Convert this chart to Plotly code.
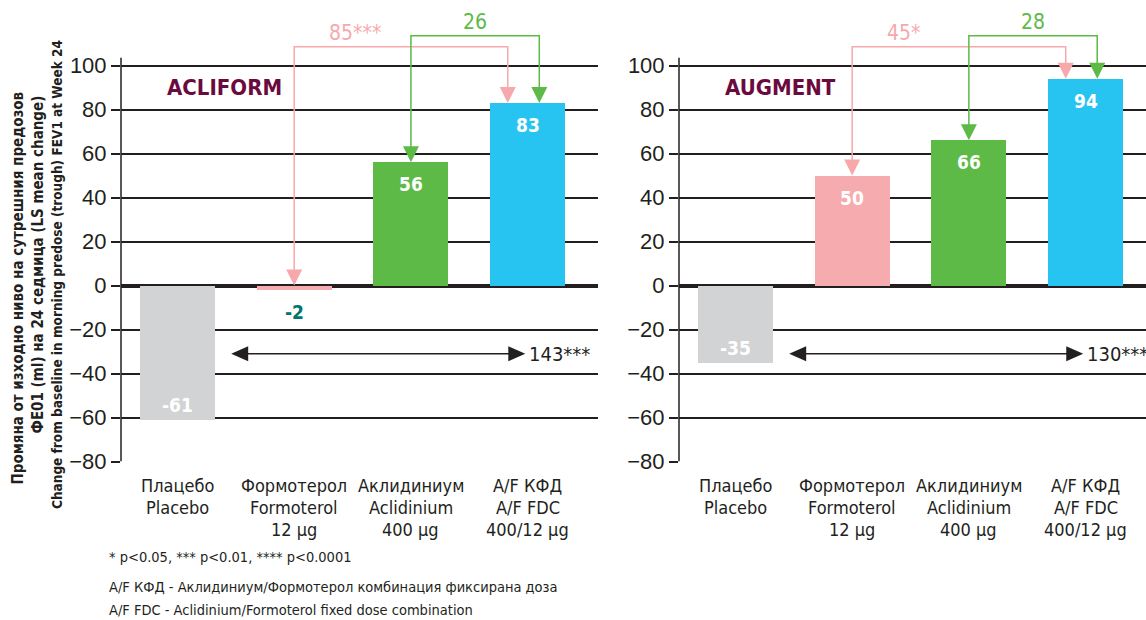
import plotly.graph_objects as go

# ---- data -------------------------------------------------------------
labels_bg = ["Плацебо", "Формотерол", "Аклидиниум", "A/F КФД"]
labels_en = ["Placebo", "Formoterol", "Aclidinium", "A/F FDC"]
labels_dose = ["", "12 µg", "400 µg", "400/12 µg"]

studies = ["ACLIFORM", "AUGMENT"]
acliform_change = [-61, -2, 56, 83]
augment_change = [-35, 50, 66, 94]

# treatment differences for A/F FDC vs formoterol, aclidinium, placebo
acliform_diffs = ["85***", "26", "143***"]
augment_diffs = ["45*", "28", "130***"]

y_ticks = [-80, -60, -40, -20, 0, 20, 40, 60, 80, 100]

y_title_lines = [
    "Промяна от изходно ниво на сутрешния предозов",
    "ФЕ01 (ml) на 24 седмица (LS mean change)",
    "Change from baseline in morning predose (trough) FEV1 at Week 24",
]
footnotes = [
    "* p<0.05, *** p<0.01, **** p<0.0001",
    "A/F КФД - Аклидиниум/Формотерол комбинация фиксирана доза",
    "A/F FDC - Aclidinium/Formoterol fixed dose combination",
]

# ---- style ------------------------------------------------------------
W, H = 1146, 620
NARROW = "DejaVu Sans Condensed, Liberation Sans Narrow, Arial Narrow, sans-serif"
REGULAR = "Liberation Sans, Arial, sans-serif"
INK = "#231f20"
BAR_COLORS = ["#d1d3d4", "#f6abae", "#5dba47", "#27c4f2"]
PINK = "#f7a8ab"
GREEN = "#5dba47"
PURPLE = "#6b0a3e"
TEAL = "#00766c"

Y_ZERO_PX = 285.5       # vertical pixel of value 0
PX_PER_UNIT = 2.2       # vertical pixels per ml
Y_TOP = Y_ZERO_PX / PX_PER_UNIT
Y_BOTTOM = -80
BAR_W = 0.643

panels = [
    dict(xa="x", ya="y", dom=(121 / W, 598 / W), xr=(-0.484, 3.603),
         values=acliform_change, diffs=acliform_diffs, title=studies[0]),
    dict(xa="x2", ya="y2", dom=(679 / W, 1.0), xr=(-0.484, 3.518),
         values=augment_change, diffs=augment_diffs, title=studies[1]),
]

fig = go.Figure()
shapes = []
annotations = []


def tri_down(xref, yref, x, y, color):
    return dict(type="path", xref=xref, yref=yref, xsizemode="pixel", ysizemode="pixel",
                xanchor=x, yanchor=y, path="M -8,16 L 8,16 L 0,0 Z",
                fillcolor=color, line=dict(width=0), layer="above")


def tri_side(xref, yref, x, y, direction):
    d = 17 * direction
    return dict(type="path", xref=xref, yref=yref, xsizemode="pixel", ysizemode="pixel",
                xanchor=x, yanchor=y, path=f"M 0,0 L {-d},7.5 L {-d},-7.5 Z",
                fillcolor=INK, line=dict(width=0), layer="above")


for k, p in enumerate(panels):
    xa, ya = p["xa"], p["ya"]
    vals = p["values"]
    xs = list(range(len(vals)))
    fig.add_trace(go.Bar(x=xs, y=vals, width=BAR_W, marker=dict(color=BAR_COLORS, line=dict(width=0)),
                         xaxis=xa, yaxis=ya, showlegend=False, hoverinfo="skip"))

    # value labels
    for i, v in enumerate(vals):
        if v > 0:
            shift, col = -22, "white"
        elif -v * PX_PER_UNIT > 30:
            shift, col = 15, "white"
        else:
            shift, col = -22, TEAL
        annotations.append(dict(x=i, y=v, xref=xa, yref=ya, yshift=shift, text=f"<b>{v}</b>",
                                showarrow=False, font=dict(family=NARROW, size=19, color=col)))

    # study name
    annotations.append(dict(x=-0.107, y=90, xref=xa, yref=ya, xanchor="left", yanchor="middle",
                            text=f"<b>{p['title']}</b>", showarrow=False,
                            font=dict(family=NARROW, size=22, color=PURPLE)))

    # y axis line
    shapes.append(dict(type="line", xref=f"{xa} domain", yref=ya, x0=0, x1=0, y0=Y_BOTTOM, y1=103.5,
                       line=dict(color=INK, width=1.5)))

    # brackets: formoterol -> A/F (pink), aclidinium -> A/F (green)
    top_af = max(vals[3], 0)
    for src, dx_end, y_top, color, label, lab_x, lab_anchor in [
        (1, -0.17, 108.5, PINK, p["diffs"][0], 1.28, "left"),
        (2, 0.10, 113.5, GREEN, p["diffs"][1], None, "center"),
    ]:
        y_src = max(vals[src], 0)
        x_end = 3 + dx_end
        shapes.append(dict(type="path", xref=xa, yref=ya,
                           path=f"M {src},{y_src + 5} L {src},{y_top} L {x_end},{y_top} L {x_end},{top_af + 5}",
                           line=dict(color=color, width=1.5)))
        shapes.append(tri_down(xa, ya, src, y_src, color))
        shapes.append(tri_down(xa, ya, x_end, top_af, color))
        annotations.append(dict(x=lab_x if lab_x is not None else (src + x_end) / 2, y=y_top,
                                xref=xa, yref=ya, xanchor=lab_anchor, yanchor="bottom", yshift=0,
                                text=label, showarrow=False,
                                font=dict(family=NARROW, size=21, color=color)))

    # double arrow placebo <-> A/F
    y_arr = -31
    xa0, xa1 = 0.46, 2.98
    shapes.append(dict(type="line", xref=xa, yref=ya, x0=xa0 + 0.1, x1=xa1 - 0.1, y0=y_arr, y1=y_arr,
                       line=dict(color=INK, width=1.5)))
    shapes.append(tri_side(xa, ya, xa0, y_arr, -1))
    shapes.append(tri_side(xa, ya, xa1, y_arr, 1))
    annotations.append(dict(x=xa1, y=y_arr, xref=xa, yref=ya, xanchor="left", yanchor="middle", xshift=2,
                            text=p["diffs"][2], showarrow=False,
                            font=dict(family=NARROW, size=20, color=INK)))

    # category labels, one line at a time
    for i in xs:
        lines = [labels_bg[i], labels_en[i], labels_dose[i]]
        for j, t in enumerate(lines):
            if not t:
                continue
            annotations.append(dict(x=i, y=1 - (486 + 21.5 * j) / H, xref=xa, yref="paper",
                                    xanchor="center", yanchor="middle", text=t, showarrow=False,
                                    font=dict(family=NARROW, size=18, color=INK)))

    axis_x = dict(domain=list(p["dom"]), range=list(p["xr"]), showgrid=False, zeroline=False,
                  showticklabels=False, ticks="", showline=False, fixedrange=True, automargin=False)
    axis_y = dict(domain=[1 - (Y_ZERO_PX - Y_BOTTOM * PX_PER_UNIT) / H, 1.0], range=[Y_BOTTOM, Y_TOP],
                  tickvals=y_ticks, ticks="outside", ticklen=9, tickwidth=1.5, tickcolor=INK,
                  tickfont=dict(family=REGULAR, size=22, color=INK),
                  showgrid=True, gridcolor=INK, gridwidth=1.5,
                  zeroline=True, zerolinecolor=INK, zerolinewidth=3.5,
                  showline=False, anchor=xa, fixedrange=True, automargin=False)
    if k == 0:
        fig.update_layout(xaxis=dict(axis_x, anchor="y"), yaxis=axis_y)
    else:
        fig.update_layout(xaxis2=dict(axis_x, anchor="y2"), yaxis2=axis_y)

# y axis title, one rotated line each
for t, cx, cy, size in zip(y_title_lines, [17.5, 37.5, 57], [288, 265, 275], [15, 15, 13.5]):
    annotations.append(dict(x=cx / W, y=1 - cy / H, xref="paper", yref="paper", textangle=-90,
                            xanchor="center", yanchor="middle", showarrow=False,
                            text=f"<b>{t}</b>", font=dict(family=NARROW, size=size, color=INK)))

# footnotes
for t, cy in zip(footnotes, [557, 587, 610]):
    annotations.append(dict(x=107 / W, y=1 - cy / H, xref="paper", yref="paper",
                            xanchor="left", yanchor="middle", text=t, showarrow=False,
                            font=dict(family=NARROW, size=14.5, color=INK)))

fig.update_layout(width=W, height=H, margin=dict(l=0, r=0, t=0, b=0, autoexpand=False), autosize=False,
                  plot_bgcolor="white", paper_bgcolor="white", bargap=0,
                  shapes=shapes, annotations=annotations)

fig.write_html("out.html")
